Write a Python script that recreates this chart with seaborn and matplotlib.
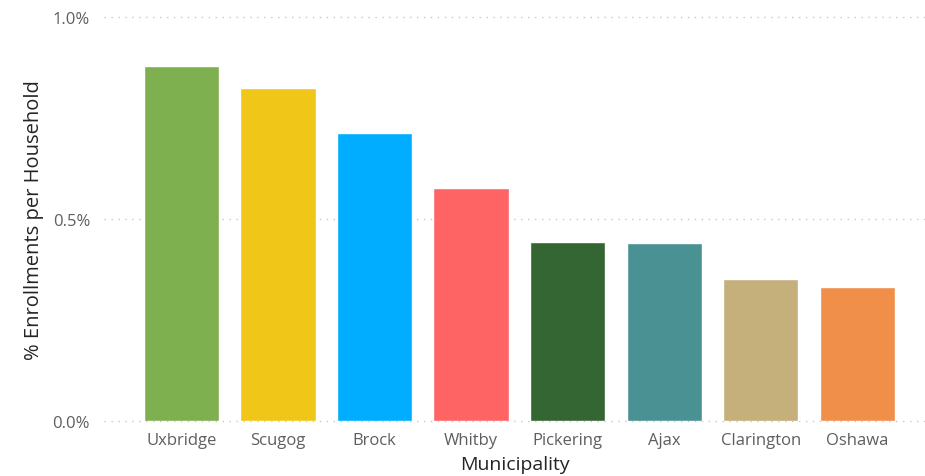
import matplotlib
matplotlib.use("Agg")
import matplotlib.pyplot as plt
import seaborn as sns
import pandas as pd
from matplotlib.ticker import FuncFormatter

municipalities = ["Uxbridge", "Scugog", "Brock", "Whitby", "Pickering", "Ajax", "Clarington", "Oshawa"]
enroll_pct = [0.879, 0.824, 0.713, 0.576, 0.444, 0.442, 0.353, 0.332]
bar_colors = ["#7FB04F", "#F0C619", "#00ADFE", "#FE6464", "#336633", "#4A9194", "#C5B07C", "#F08F49"]
y_ticks = [0.0, 0.5, 1.0]

df = pd.DataFrame({"Municipality": municipalities, "Pct": enroll_pct})

sns.set_style("white")
plt.rcParams["font.family"] = ["Open Sans", "DejaVu Sans"]

fig = plt.figure(figsize=(9.25, 4.77), dpi=100)
ax = fig.add_axes([0.1124, 0.1153, 0.8876, 0.8463])

sns.barplot(data=df, x="Municipality", y="Pct", hue="Municipality",
            palette=bar_colors, legend=False, width=0.78, ax=ax,
            saturation=1, zorder=3)

ax.set_xlim(-0.80, 7.70)
ax.set_ylim(0, 1.0)
ax.set_yticks(y_ticks)
ax.yaxis.set_major_formatter(FuncFormatter(lambda v, p: f"{v:.1f}%"))
for y in y_ticks:
    ax.axhline(y, color="#C8C8C8", lw=1.0, linestyle=(0, (1, 4)), zorder=1, clip_on=False)

for s in ax.spines.values():
    s.set_visible(False)
ax.tick_params(axis="both", length=0, colors="#605E5C", labelsize=12)
ax.tick_params(axis="x", pad=8)
ax.tick_params(axis="y", pad=10)
ax.set_xlabel("Municipality", fontsize=14, color="#252423", labelpad=5)
ax.set_ylabel("% Enrollments per Household", fontsize=14.5, color="#252423", labelpad=6)

fig.savefig("out.png", dpi=100)
